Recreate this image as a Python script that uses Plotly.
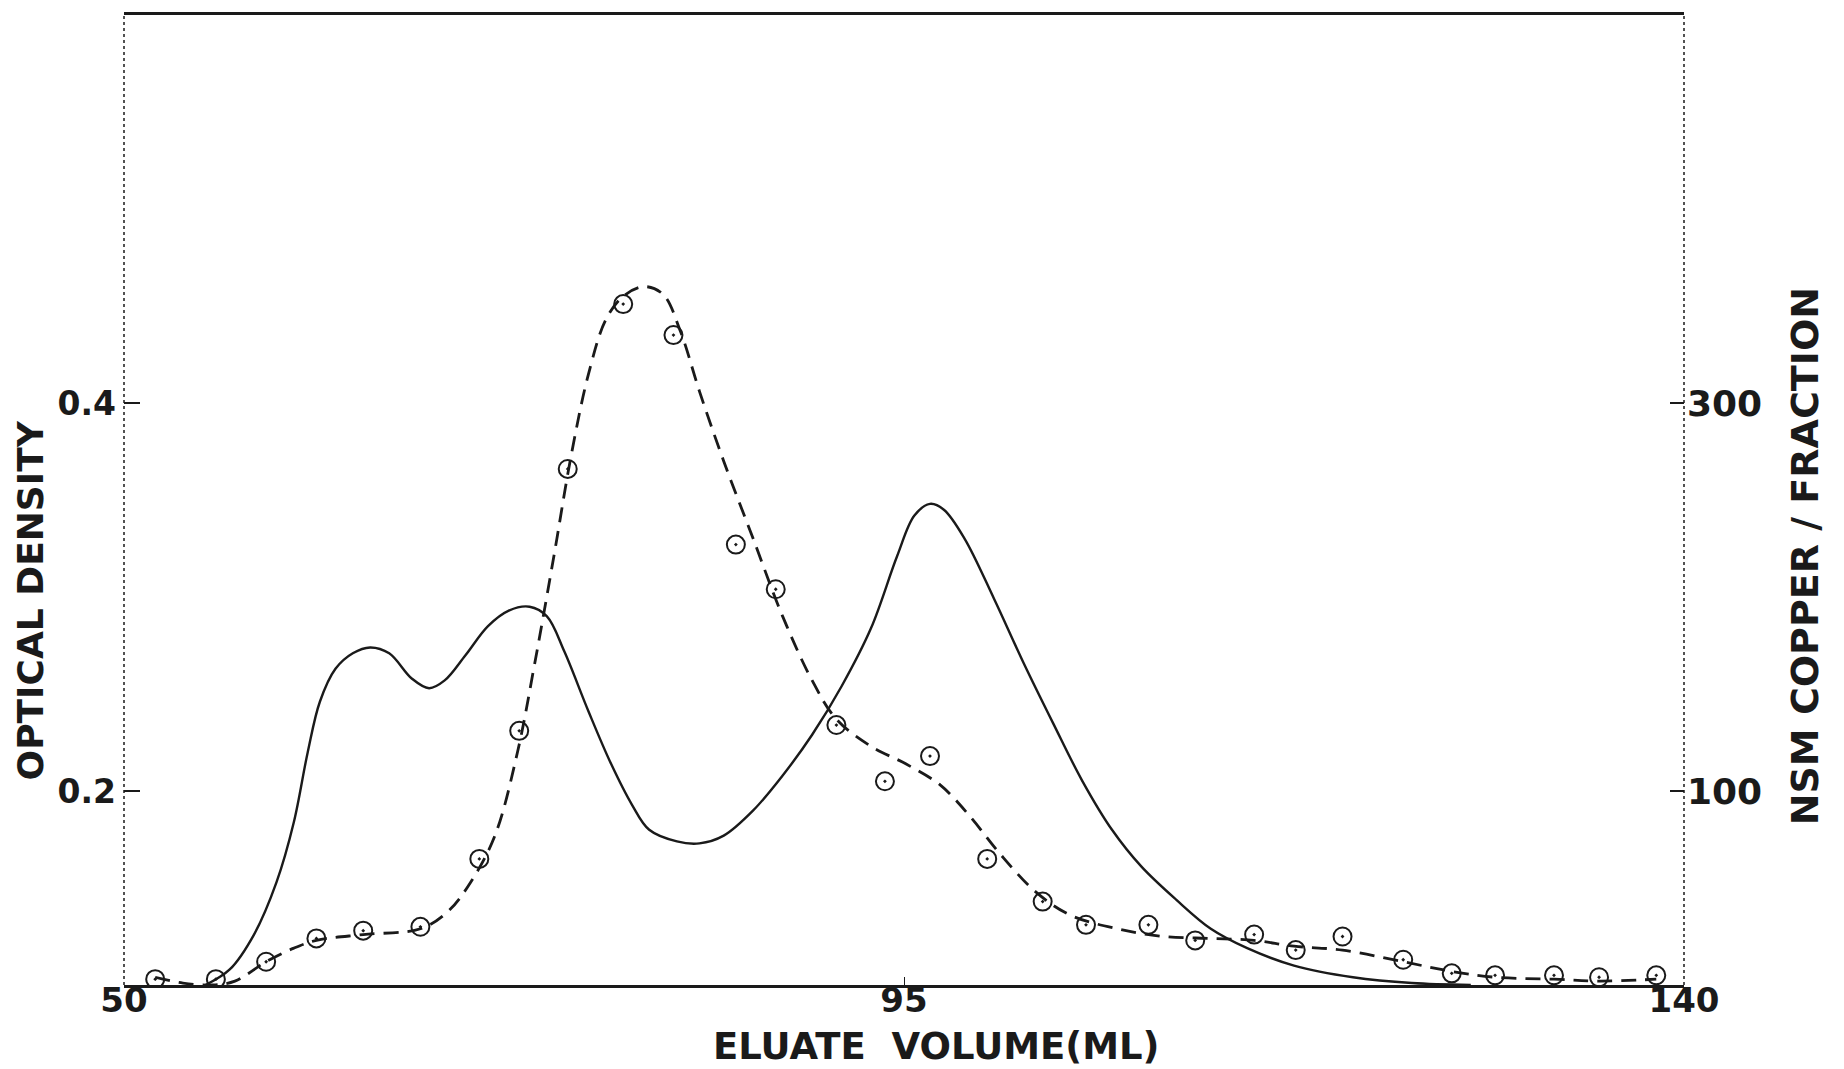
import plotly.graph_objects as go

# Eluate volume (ml) vs optical density: smooth drawn absorbance curve
od_volume = [54.7, 56.1, 57.5, 58.8, 59.8, 60.6, 61.3, 62.2, 63.2, 64.2, 65.3, 66.6,
             67.6, 68.5, 69.7, 71.0, 72.2, 73.4, 74.4, 75.4, 76.8, 78.1, 79.3, 80.3,
             81.9, 83.2, 84.6, 86.3, 88.0, 89.7, 91.4, 93.1, 94.6, 95.6, 96.5, 97.3,
             98.5, 100.2, 101.9, 103.6, 105.3, 107.0, 108.7, 110.7, 112.7, 114.8,
             117.5, 120.9, 124.3, 127.7]
od_value = [0.100, 0.108, 0.126, 0.153, 0.184, 0.220, 0.246, 0.263, 0.271, 0.274, 0.271,
            0.258, 0.253, 0.257, 0.270, 0.285, 0.293, 0.295, 0.290, 0.272, 0.241, 0.214,
            0.193, 0.180, 0.174, 0.173, 0.177, 0.190, 0.208, 0.229, 0.254, 0.284, 0.321,
            0.342, 0.348, 0.345, 0.330, 0.299, 0.266, 0.235, 0.205, 0.180, 0.161, 0.144,
            0.129, 0.119, 0.110, 0.104, 0.101, 0.100]

# Copper per fraction: drawn dashed curve
cu_curve_volume = [51.8, 53.4, 55.1, 56.4, 58.2, 59.8, 61.1, 63.8, 67.1, 68.7, 70.0, 71.4,
                   72.7, 73.7, 74.8, 75.8, 76.8, 77.8, 78.8, 80.0, 81.1, 82.1, 83.2, 84.6,
                   86.3, 88.0, 89.7, 91.1, 93.1, 95.1, 97.1, 98.8, 100.5, 102.6, 104.6,
                   107.3, 110.0, 112.7, 115.2, 117.5, 120.3, 123.8, 126.6, 129.1, 132.5,
                   135.1, 138.4]
cu_curve_value = [4, 1, 0, 2, 12, 19, 23, 26, 29, 38, 53, 77, 120, 166, 221, 273, 315, 343,
                  355, 360, 356, 337, 306, 270, 230, 190, 157, 137, 123, 114, 103, 87, 68,
                  48, 36, 29, 25, 24, 23, 20, 18, 12, 7, 4, 3, 2, 3]

# Copper per fraction: measured fractions
cu_volume = [51.8, 55.3, 58.2, 61.1, 63.8, 67.1, 70.5, 72.8, 75.6, 78.8, 81.7, 85.3,
             87.6, 91.1, 93.9, 96.5, 99.8, 103.0, 105.5, 109.1, 111.8, 115.2, 117.6,
             120.3, 123.8, 126.6, 129.1, 132.5, 135.1, 138.4]
cu_value = [3, 3, 12, 24, 28, 30, 65, 131, 266, 351, 335, 227, 204, 134, 105, 118, 65,
            43, 31, 31, 23, 26, 18, 25, 13, 6, 5, 5, 4, 5]

x_ticks = [50, 95, 140]
od_ticks = [0.2, 0.4]
cu_ticks = [100, 300]

INK = "#1a1a1a"
FAMILY = "DejaVu Sans, Verdana, sans-serif"

fig = go.Figure()

fig.add_trace(go.Scatter(
    x=od_volume, y=od_value, mode="lines", line=dict(color=INK, width=2.4, shape="spline"),
    yaxis="y", showlegend=False, hoverinfo="skip"))

fig.add_trace(go.Scatter(
    x=cu_curve_volume, y=cu_curve_value, mode="lines",
    line=dict(color=INK, width=2.8, shape="spline", dash="15px,9px"),
    yaxis="y2", showlegend=False, hoverinfo="skip"))

fig.add_trace(go.Scatter(
    x=cu_volume, y=cu_value, mode="markers",
    marker=dict(symbol="circle-open-dot", size=18, color=INK, line=dict(color=INK, width=2)),
    yaxis="y2", showlegend=False))

fig.update_layout(
    width=1844, height=1069,
    margin=dict(l=124, r=160, t=12, b=84),
    paper_bgcolor="white", plot_bgcolor="white",
    xaxis=dict(range=[50, 140], tickvals=x_ticks, ticktext=[str(v) for v in x_ticks],
               showgrid=False, zeroline=False, showline=True, linecolor=INK, linewidth=3,
               mirror=True, ticks="inside", ticklen=8, tickcolor=INK,
               ticklabelstandoff=-17,
               tickfont=dict(family=FAMILY, size=34, color=INK, weight="bold")),
    yaxis=dict(range=[0.1, 0.6], tickvals=od_ticks, ticktext=[f"{v:.1f}" for v in od_ticks],
               showgrid=False, zeroline=False, showline=False, ticks="inside", ticklen=16,
               tickwidth=2, tickcolor=INK, ticklabelstandoff=7,
               tickfont=dict(family=FAMILY, size=33, color=INK, weight="bold")),
    yaxis2=dict(range=[0, 500], overlaying="y", side="right", tickvals=cu_ticks,
                ticktext=[str(v) for v in cu_ticks], showgrid=False, zeroline=False,
                showline=False, ticks="inside", ticklen=14, tickwidth=2, tickcolor=INK,
                ticklabelstandoff=2,
                tickfont=dict(family=FAMILY, size=36, color=INK, weight="bold")),
    shapes=[
        dict(type="line", xref="paper", yref="paper", x0=0, x1=0, y0=0, y1=1,
             line=dict(color=INK, width=1.5, dash="dot")),
        dict(type="line", xref="paper", yref="paper", x0=1, x1=1, y0=0, y1=1,
             line=dict(color=INK, width=1.5, dash="dot")),
    ],
    annotations=[
        dict(text="ELUATE  VOLUME(ML)", xref="paper", yref="paper", x=0.521, y=-0.0637,
             showarrow=False, font=dict(family=FAMILY, size=37, color=INK, weight="bold"),
             xanchor="center", yanchor="middle"),
        dict(text="OPTICAL DENSITY", xref="paper", yref="paper", x=-0.0599, y=0.396,
             showarrow=False, font=dict(family=FAMILY, size=36, color=INK, weight="bold"),
             textangle=-90, xanchor="center", yanchor="middle"),
        dict(text="NSM COPPER / FRACTION", xref="paper", yref="paper", x=1.0776, y=0.442,
             showarrow=False, font=dict(family=FAMILY, size=38, color=INK, weight="bold"),
             textangle=-90, xanchor="center", yanchor="middle"),
    ],
)

fig.write_html("out.html")
